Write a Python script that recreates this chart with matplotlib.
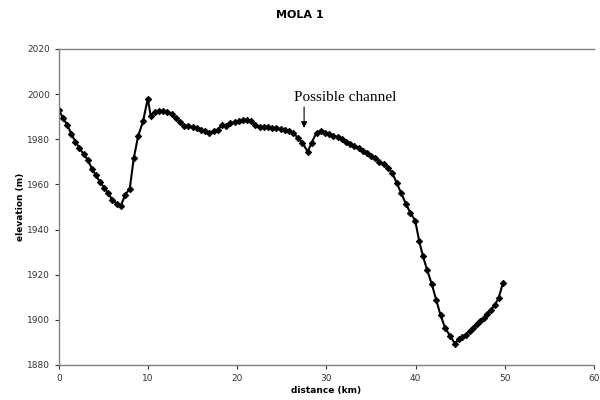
import matplotlib
matplotlib.use("Agg")
import matplotlib.pyplot as plt

# profile: distance (km) and elevation (m)
distance = [0.0, 0.46, 0.93, 1.39, 1.85, 2.32, 2.78, 3.24, 3.71, 4.17, 4.63, 5.10, 5.56, 6.02, 6.49, 6.95,
            7.45, 7.95, 8.4, 8.9, 9.45, 9.97,
            10.30, 10.77, 11.24, 11.71, 12.18, 12.65, 13.12, 13.59, 14.06, 14.53, 15.00, 15.47, 15.94,
            16.41, 16.88, 17.35, 17.82, 18.29, 18.76, 19.23, 19.70, 20.17, 20.64, 21.11, 21.58, 22.05,
            22.52, 22.99, 23.46, 23.93, 24.40, 24.87, 25.34, 25.81, 26.3,
            26.8, 27.3, 27.9, 28.35, 28.9,
            29.37, 29.84, 30.31, 30.78, 31.25, 31.72, 32.19, 32.66, 33.13, 33.6, 34.07, 34.54, 35.01,
            35.48, 35.95, 36.42, 36.89,
            37.4, 37.9, 38.4, 38.9, 39.4, 39.95, 40.4, 40.8, 41.3, 41.8, 42.3, 42.8, 43.3, 43.85, 44.4,
            44.85, 45.25, 45.65, 46.05, 46.45, 46.85, 47.25, 47.65, 48.05, 48.45, 48.85, 49.3, 49.8]
elevation = [1993, 1989.5, 1986.5, 1982.5, 1979, 1976, 1973.5, 1971, 1967, 1964, 1961, 1958.5, 1956, 1953, 1951.5, 1950.5,
             1955.5, 1958, 1971.5, 1981.5, 1988, 1998,
             1990.5, 1992, 1992.5, 1992.5, 1992, 1991, 1989.5, 1987.5, 1986, 1986, 1985.5, 1985, 1984,
             1983.5, 1983, 1983.5, 1984, 1986.5, 1986, 1987, 1987.5, 1988, 1988.5, 1988.5, 1988, 1986.5,
             1985.5, 1985.5, 1985.5, 1985, 1985, 1984.5, 1984, 1983.5, 1983,
             1980.5, 1978.5, 1974.5, 1978.5, 1983,
             1983.5, 1983, 1982.5, 1981.5, 1981, 1980, 1979, 1978, 1977, 1976, 1975, 1974, 1972.5,
             1971.5, 1970, 1969, 1967.5,
             1965, 1960.5, 1956, 1951.5, 1947.5, 1944, 1935, 1928.5, 1922, 1916, 1909, 1902, 1896.5, 1893, 1889.5,
             1891.5, 1892.5, 1893.5, 1895, 1896.5, 1898, 1899.5, 1901, 1902.5, 1904.5, 1906.5, 1909.5, 1916.5]

x_ticks = [0, 10, 20, 30, 40, 50, 60]
y_ticks = [1880, 1900, 1920, 1940, 1960, 1980, 2000, 2020]

fig = plt.figure(figsize=(6, 4), dpi=100)
ax = fig.add_axes([0.098, 0.0875, 0.892, 0.79])

ax.plot(distance, elevation, color="black", linewidth=1.5,
        marker="D", markersize=3.3, markerfacecolor="black", markeredgecolor="black",
        markeredgewidth=0.6)

ax.set_xlim(0, 60)
ax.set_ylim(1880, 2020)
ax.set_xticks(x_ticks)
ax.set_yticks(y_ticks)
ax.tick_params(labelsize=6.5, colors="#333333", length=3, width=0.8, direction="out")

for side in ["left", "bottom", "top"]:
    ax.spines[side].set_color("#808080")
    ax.spines[side].set_linewidth(1)
ax.spines["right"].set_visible(False)

ax.set_xlabel("distance (km)", fontsize=6.5, fontweight="bold", labelpad=2)
ax.set_ylabel("elevation (m)", fontsize=6.5, fontweight="bold", labelpad=1)
fig.suptitle("MOLA 1", fontsize=8, fontweight="bold", y=0.975)

# label and arrow for the dip
ax.text(26.4, 1998.6, "Possible channel", fontsize=11, family="Liberation Serif",
        ha="left", va="center")
ax.annotate("", xy=(27.5, 1985), xytext=(27.5, 1994.3),
            arrowprops=dict(arrowstyle="-|>", color="black", lw=0.8, mutation_scale=9,
                            shrinkA=0, shrinkB=0))

fig.savefig("out.png", dpi=100)
